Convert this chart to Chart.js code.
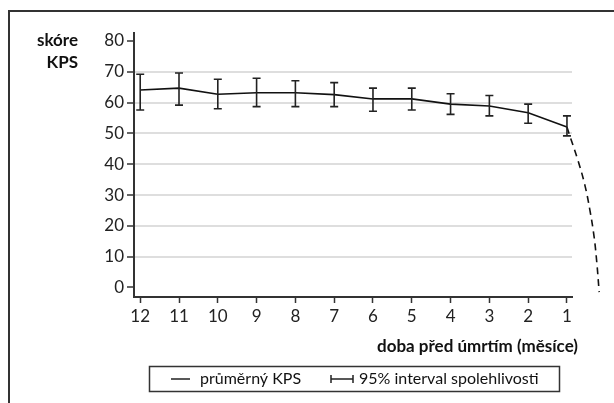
<!DOCTYPE html>
<html>
<head>
<meta charset="utf-8">
<script src="https://cdn.jsdelivr.net/npm/chart.js@4/dist/chart.umd.min.js"></script>
<style>
  html, body { margin: 0; padding: 0; background: #fff; }
  #wrap { position: relative; width: 614px; height: 403px; }
</style>
</head>
<body>
<div id="wrap"><canvas id="kps"></canvas></div>
<script>
// months before death, mean KPS and its 95% CI
const months = [12, 11, 10, 9, 8, 7, 6, 5, 4, 3, 2, 1];
const meanKps = [64.1, 64.7, 62.7, 63.2, 63.2, 62.6, 61.2, 61.2, 59.5, 58.9, 56.7, 52.1];
const ciLow = [57.6, 59.2, 58.0, 58.7, 58.7, 58.7, 57.2, 57.6, 56.2, 55.7, 53.3, 49.2];
const ciHigh = [69.2, 69.6, 67.6, 67.9, 67.1, 66.5, 64.7, 64.7, 62.9, 62.3, 59.5, 55.7];

// dashed extrapolation after the last month
const trendX = [1, 0.95, 0.72, 0.54, 0.41, 0.30, 0.23, 0.17];
const trendY = [52.1, 50.1, 41.4, 33.3, 25.2, 16.4, 8.0, -1.5];

const yTicks = [0, 10, 20, 30, 40, 50, 60, 70, 80];

const yTitle = ['skóre', 'KPS'];
const xTitle = 'doba před úmrtím (měsíce)';
const legendMean = 'průměrný KPS';
const legendCi = '95% interval spolehlivosti';

const FONT = 'Lato, "Open Sans", sans-serif';
const INK = '#222';

const frame = {
  id: 'frame',
  beforeDraw(chart) {
    const { ctx } = chart;
    ctx.save();
    ctx.fillStyle = '#fff';
    ctx.fillRect(0, 0, chart.width, chart.height);
    ctx.strokeStyle = '#333';
    ctx.lineWidth = 2;
    ctx.strokeRect(9, 11, 700, 500);
    ctx.restore();
  },
};

const errorBars = {
  id: 'errorBars',
  afterDatasetsDraw(chart) {
    const { ctx, scales: { x, y } } = chart;
    ctx.save();
    ctx.strokeStyle = INK;
    ctx.lineWidth = 1.6;
    months.forEach((m, i) => {
      const px = x.getPixelForValue(m);
      const lo = y.getPixelForValue(ciLow[i]);
      const hi = y.getPixelForValue(ciHigh[i]);
      ctx.beginPath();
      ctx.moveTo(px, lo); ctx.lineTo(px, hi);
      ctx.moveTo(px - 4, lo); ctx.lineTo(px + 4, lo);
      ctx.moveTo(px - 4, hi); ctx.lineTo(px + 4, hi);
      ctx.stroke();
    });
    ctx.restore();
  },
};

const labels = {
  id: 'labels',
  afterDraw(chart) {
    const { ctx, chartArea } = chart;
    ctx.save();
    ctx.fillStyle = '#111';
    ctx.textBaseline = 'middle';

    // y title, top left
    ctx.font = 'bold 17px ' + FONT;
    ctx.textAlign = 'right';
    ctx.fillText(yTitle[0], 78, 41);
    ctx.fillText(yTitle[1], 78, 63);

    // x title, right aligned under the axis
    ctx.fillText(xTitle, chartArea.right + 6, 347);

    // legend box
    ctx.strokeStyle = '#333';
    ctx.lineWidth = 1.5;
    ctx.strokeRect(149.5, 366.5, 410, 25);
    const ly = 379;
    ctx.strokeStyle = INK;
    ctx.beginPath();
    ctx.moveTo(171, ly); ctx.lineTo(190, ly);
    ctx.moveTo(331, ly); ctx.lineTo(353, ly);
    ctx.moveTo(331, ly - 4); ctx.lineTo(331, ly + 4);
    ctx.moveTo(353, ly - 4); ctx.lineTo(353, ly + 4);
    ctx.stroke();
    ctx.font = '16px ' + FONT;
    ctx.textAlign = 'left';
    ctx.fillText(legendMean, 200, ly);
    ctx.fillText(legendCi, 359, ly);
    ctx.restore();
  },
};

new Chart(document.getElementById('kps'), {
  type: 'line',
  data: {
    datasets: [
      {
        label: legendMean,
        data: months.map((m, i) => ({ x: m, y: meanKps[i] })),
        borderColor: '#111',
        borderWidth: 1.6,
        pointRadius: 0,
        tension: 0,
      },
      {
        label: 'trend',
        data: trendX.map((m, i) => ({ x: m, y: trendY[i] })),
        borderColor: '#111',
        borderWidth: 1.6,
        borderDash: [7, 5],
        pointRadius: 0,
        tension: 0.4,
        clip: false,
      },
    ],
  },
  options: {
    responsive: true,
    maintainAspectRatio: false,
    animation: false,
    layout: { padding: { top: 33, right: 42, bottom: 76, left: 0 } },
    plugins: { legend: { display: false }, tooltip: { enabled: false } },
    scales: {
      x: {
        type: 'linear',
        reverse: true,
        min: 0.87,
        max: 12.16,
        afterBuildTicks: (s) => { s.ticks = months.slice().reverse().map((v) => ({ value: v })); },
        afterFit: (s) => { s.height = 30; },
        grid: { drawOnChartArea: false, tickLength: 6, tickColor: '#333', tickWidth: 1.5 },
        border: { color: '#333', width: 2 },
        ticks: { color: INK, padding: 3, font: { family: FONT, size: 17 } },
      },
      y: {
        min: -3.1,
        max: 82.6,
        afterBuildTicks: (s) => { s.ticks = yTicks.map((v) => ({ value: v })); },
        afterFit: (s) => { s.width = 134; },
        grid: {
          color: (c) => (c.tick && c.tick.value > 0 && c.tick.value < 80 ? '#dedede' : 'rgba(0,0,0,0)'),
          lineWidth: 2,
          tickLength: 7,
          tickColor: '#333',
          tickWidth: 1.5,
        },
        border: { color: '#333', width: 2 },
        ticks: { color: INK, padding: 3, font: { family: FONT, size: 17 } },
      },
    },
  },
  plugins: [frame, errorBars, labels],
});
</script>
</body>
</html>
